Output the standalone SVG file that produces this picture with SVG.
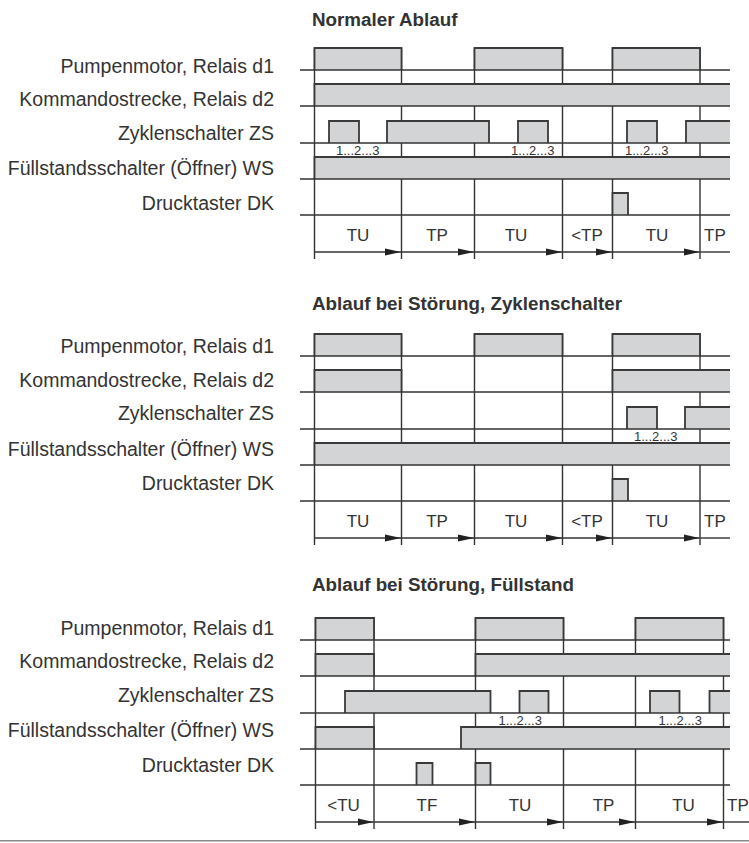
<svg xmlns="http://www.w3.org/2000/svg" width="749" height="843" viewBox="0 0 749 843">
<style>
.ln{stroke:#333;stroke-width:1.4;fill:none}
.pl{fill:#d3d4d6;stroke:#3a3a3a;stroke-width:1.8}
.pf{fill:#d3d4d6;stroke:none}
.pe{fill:none;stroke:#3a3a3a;stroke-width:1.8}
.ar{stroke:#333;stroke-width:1.4;fill:none}
text{font-family:"Liberation Sans",Arial,sans-serif;fill:#333}
.lbl{font-size:19.5px;text-anchor:end}
.ttl{font-size:18.8px;font-weight:bold}
.tl{font-size:17px;text-anchor:middle}
.tls{font-size:17px}
.cnt{font-size:13px}
</style>
<defs>
<marker id="ah" markerUnits="userSpaceOnUse" markerWidth="17" markerHeight="8" refX="16" refY="4" orient="auto">
<path d="M0,0.5 L16,4 L0,7.5 z" fill="#222"/>
</marker>
</defs>

<!-- Section 1 -->
<g id="section1">
<text class="ttl" x="312" y="26">Normaler Ablauf</text>
<g id="s1-labels">
<text class="lbl" x="274" y="72.7">Pumpenmotor, Relais d1</text>
<text class="lbl" x="274" y="105.8">Kommandostrecke, Relais d2</text>
<text class="lbl" x="274" y="139.7">Zyklenschalter ZS</text>
<text class="lbl" x="274" y="175">Füllstandsschalter (Öffner) WS</text>
<text class="lbl" x="274" y="209.5">Drucktaster DK</text>
</g>
<g id="s1-diagram">
<path class="ln" d="M314.5 48V259M401.5 48V259M474.5 48V259M562.5 48V259M612.5 48V259M700 48V259"/>
<g id="s1-d1"><path class="pl" d="M314.5 70V48H401.5V70"/><path class="pl" d="M474.5 70V48H562.5V70"/><path class="pl" d="M612.5 70V48H700V70"/></g>
<g id="s1-d2"><rect class="pf" x="314.5" y="84" width="415.5" height="22"/><path class="pe" d="M314.5 106V84H730"/></g>
<g id="s1-zs"><path class="pl" d="M329 143V121H359V143"/><path class="pl" d="M387 143V121H489V143"/><path class="pl" d="M518 143V121H548V143"/><path class="pl" d="M627 143V121H657V143"/><rect class="pf" x="686" y="121" width="44" height="22"/><path class="pe" d="M686 143V121H730"/></g>
<g id="s1-ws"><rect class="pf" x="314.5" y="157" width="415.5" height="22"/><path class="pe" d="M314.5 179V157H730"/></g>
<g id="s1-dk"><path class="pl" d="M612.5 215V193H628V215"/></g>
<path class="ln" d="M300 70H730M300 106H730M300 143H730M300 179H730M300 215H730"/>
<text class="cnt" x="336" y="155">1...2...3</text>
<text class="cnt" x="511" y="155">1...2...3</text>
<text class="cnt" x="625" y="155">1...2...3</text>
<text class="tl" x="358" y="241">TU</text>
<text class="tl" x="437" y="241">TP</text>
<text class="tl" x="516" y="241">TU</text>
<text class="tl" x="587" y="241">&lt;TP</text>
<text class="tl" x="657" y="241">TU</text>
<text class="tls" x="704" y="241">TP</text>
</g>
<g id="s1-connectors">
<path class="ar" d="M314.5 252H401" marker-end="url(#ah)"/>
<path class="ar" d="M401.5 252H474" marker-end="url(#ah)"/>
<path class="ar" d="M474.5 252H562" marker-end="url(#ah)"/>
<path class="ar" d="M562.5 252H612" marker-end="url(#ah)"/>
<path class="ar" d="M612.5 252H699.5" marker-end="url(#ah)"/>
<path class="ar" d="M700 252H730"/>
</g>
</g>

<!-- Section 2 -->
<g id="section2">
<text class="ttl" x="312" y="310">Ablauf bei Störung, Zyklenschalter</text>
<g id="s2-labels">
<text class="lbl" x="274" y="353">Pumpenmotor, Relais d1</text>
<text class="lbl" x="274" y="386.5">Kommandostrecke, Relais d2</text>
<text class="lbl" x="274" y="420">Zyklenschalter ZS</text>
<text class="lbl" x="274" y="455.5">Füllstandsschalter (Öffner) WS</text>
<text class="lbl" x="274" y="490">Drucktaster DK</text>
</g>
<g id="s2-diagram" transform="translate(0,286)">
<path class="ln" d="M314.5 48V259M401.5 48V259M474.5 48V259M562.5 48V259M612.5 48V259M700 48V259"/>
<g id="s2-d1"><path class="pl" d="M314.5 70V48H401.5V70"/><path class="pl" d="M474.5 70V48H562.5V70"/><path class="pl" d="M612.5 70V48H700V70"/></g>
<g id="s2-d2"><path class="pl" d="M314.5 106V84H401.5V106"/><rect class="pf" x="612.5" y="84" width="117.5" height="22"/><path class="pe" d="M612.5 106V84H730"/></g>
<g id="s2-zs"><path class="pl" d="M627 143V121H657V143"/><rect class="pf" x="685" y="121" width="45" height="22"/><path class="pe" d="M685 143V121H730"/></g>
<g id="s2-ws"><rect class="pf" x="314.5" y="157" width="415.5" height="22"/><path class="pe" d="M314.5 179V157H730"/></g>
<g id="s2-dk"><path class="pl" d="M612.5 215V193H628V215"/></g>
<path class="ln" d="M300 70H730M300 106H730M300 143H730M300 179H730M300 215H730"/>
<text class="cnt" x="634" y="155">1...2...3</text>
<text class="tl" x="358" y="241">TU</text>
<text class="tl" x="437" y="241">TP</text>
<text class="tl" x="516" y="241">TU</text>
<text class="tl" x="587" y="241">&lt;TP</text>
<text class="tl" x="657" y="241">TU</text>
<text class="tls" x="704" y="241">TP</text>
</g>
<g id="s2-connectors" transform="translate(0,286)">
<path class="ar" d="M314.5 252H401" marker-end="url(#ah)"/>
<path class="ar" d="M401.5 252H474" marker-end="url(#ah)"/>
<path class="ar" d="M474.5 252H562" marker-end="url(#ah)"/>
<path class="ar" d="M562.5 252H612" marker-end="url(#ah)"/>
<path class="ar" d="M612.5 252H699.5" marker-end="url(#ah)"/>
<path class="ar" d="M700 252H730"/>
</g>
</g>

<!-- Section 3 -->
<g id="section3">
<text class="ttl" x="312" y="591">Ablauf bei Störung, Füllstand</text>
<g id="s3-labels">
<text class="lbl" x="274" y="634.7">Pumpenmotor, Relais d1</text>
<text class="lbl" x="274" y="668">Kommandostrecke, Relais d2</text>
<text class="lbl" x="274" y="702">Zyklenschalter ZS</text>
<text class="lbl" x="274" y="737">Füllstandsschalter (Öffner) WS</text>
<text class="lbl" x="274" y="771.5">Drucktaster DK</text>
</g>
<g id="s3-diagram" transform="translate(0,570)">
<path class="ln" d="M315.5 48V259M374 48V259M475.5 48V259M563.5 48V259M635.5 48V259M723.5 48V259"/>
<g id="s3-d1"><path class="pl" d="M315.5 70V48H374V70"/><path class="pl" d="M475.5 70V48H563.5V70"/><path class="pl" d="M635.5 70V48H723.5V70"/></g>
<g id="s3-d2"><path class="pl" d="M315.5 106V84H374V106"/><rect class="pf" x="475.5" y="84" width="254.5" height="22"/><path class="pe" d="M475.5 106V84H730"/></g>
<g id="s3-zs"><path class="pl" d="M345 143V121H490.5V143"/><path class="pl" d="M519.5 143V121H548.5V143"/><path class="pl" d="M650 143V121H679.5V143"/><rect class="pf" x="709.5" y="121" width="20.5" height="22"/><path class="pe" d="M709.5 143V121H730"/></g>
<g id="s3-ws"><path class="pl" d="M315.5 179V157H374V179"/><rect class="pf" x="461" y="157" width="269" height="22"/><path class="pe" d="M461 179V157H730"/></g>
<g id="s3-dk"><path class="pl" d="M416.5 215V193H432.5V215"/><path class="pl" d="M475.5 215V193H490.5V215"/></g>
<path class="ln" d="M300 70H730M300 106H730M300 143H730M300 179H730M300 215H730"/>
<text class="cnt" x="498.5" y="155">1...2...3</text>
<text class="cnt" x="658.5" y="155">1...2...3</text>
<text class="tl" x="343.5" y="241">&lt;TU</text>
<text class="tl" x="427" y="241">TF</text>
<text class="tl" x="520" y="241">TU</text>
<text class="tl" x="603.5" y="241">TP</text>
<text class="tl" x="683.5" y="241">TU</text>
<text class="tls" x="727" y="241">TP</text>
</g>
<g id="s3-connectors" transform="translate(0,570)">
<path class="ar" d="M315.5 252H373.5" marker-end="url(#ah)"/>
<path class="ar" d="M374 252H475" marker-end="url(#ah)"/>
<path class="ar" d="M475.5 252H563" marker-end="url(#ah)"/>
<path class="ar" d="M563.5 252H635" marker-end="url(#ah)"/>
<path class="ar" d="M635.5 252H723" marker-end="url(#ah)"/>
<path class="ar" d="M723.5 252H749"/>
</g>
</g>

<line x1="0" y1="840.7" x2="749" y2="840.7" stroke="#888" stroke-width="1.5"/>
</svg>
